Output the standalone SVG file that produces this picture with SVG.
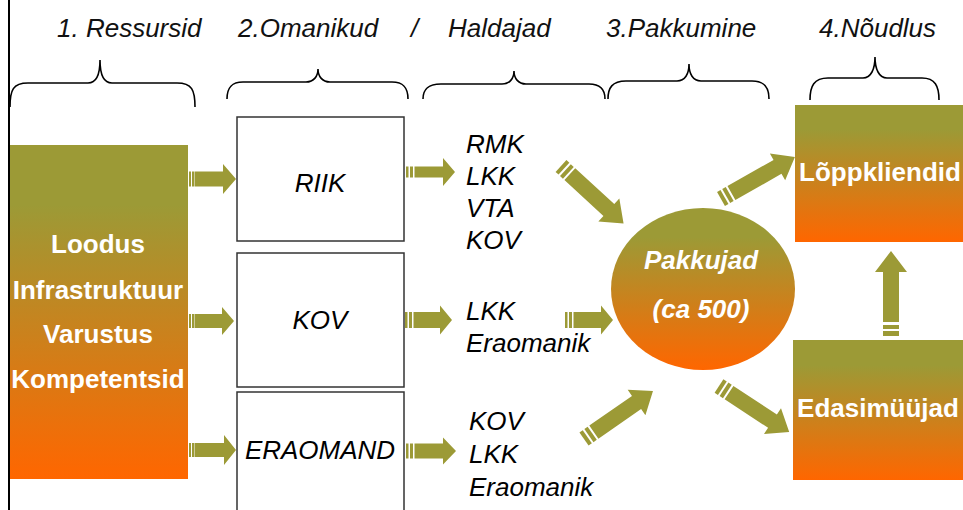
<svg xmlns="http://www.w3.org/2000/svg" width="963" height="510" viewBox="0 0 963 510">
  <defs>
    <linearGradient id="olive-orange" x1="0" y1="0" x2="0" y2="1">
      <stop offset="0" stop-color="#9C9A36"/>
      <stop offset="0.18" stop-color="#9C9A36"/>
      <stop offset="1" stop-color="#FF6600"/>
    </linearGradient>
  </defs>
  <style>
    .head { font-family: "Liberation Sans", Arial, sans-serif; font-style: italic; font-size: 26px; fill: #111; }
    .item { font-family: "Liberation Sans", Arial, sans-serif; font-style: italic; font-size: 26px; fill: #000; }
    .white { font-family: "Liberation Sans", Arial, sans-serif; font-weight: bold; font-size: 26px; fill: #fff; text-anchor: middle; }
    .brace { fill: none; stroke: #000; stroke-width: 1.6; }
    .owner { fill: #fff; stroke: #333; stroke-width: 1.5; }
    .grad { fill: url(#olive-orange); }
    .arrow { fill: #9C9A36; }
  </style>

  <!-- left margin rule -->
  <line x1="9" y1="0" x2="9" y2="510" stroke="#000" stroke-width="2"/>

  <!-- column headings -->
  <g id="headings">
    <text class="head" x="57" y="37">1. Ressursid</text>
    <text class="head" x="238" y="37">2.Omanikud</text>
    <text class="head" x="411" y="37">/</text>
    <text class="head" x="448" y="37">Haldajad</text>
    <text class="head" x="606" y="37">3.Pakkumine</text>
    <text class="head" x="819" y="37">4.Nõudlus</text>
  </g>

  <!-- curly braces under the headings -->
  <g id="braces">
    <path class="brace" d="M10,107 C10,90 13,83 28,83 L88,83 C96,83 100,74 100,60 C100,74 104,83 112,83 L177,83 C192,83 195,90 195,107"/>
    <path class="brace" d="M227,99 C227,88 231,82 243,82 L306,82 C314,82 318,76 318,69 C318,76 322,82 330,82 L392,82 C404,82 408,88 408,99"/>
    <path class="brace" d="M423,99 C423,90 427,84 441,84 L502,84 C510,84 514,78 514,71 C514,78 518,84 526,84 L589,84 C601,84 605,90 605,99"/>
    <path class="brace" d="M608,99 C608,88 612,81 626,81 L677,81 C685,81 689,74 689,64 C689,74 693,81 701,81 L752,81 C765,81 769,88 769,99"/>
    <path class="brace" d="M810,100 C810,86 814,78 828,78 L863,78 C871,78 875,69 875,57 C875,69 879,78 887,78 L922,78 C935,78 939,86 939,100"/>
  </g>

  <!-- 1. resources -->
  <g id="ressursid">
    <rect class="grad" x="10" y="145" width="178" height="334"/>
    <text class="white" x="98" y="253">Loodus</text>
    <text class="white" x="98" y="299">Infrastruktuur</text>
    <text class="white" x="98" y="343">Varustus</text>
    <text class="white" x="98" y="388">Kompetentsid</text>
  </g>

  <!-- 2. owners -->
  <g id="riik">
    <rect class="owner" x="237" y="117" width="167" height="124"/>
    <text class="item" x="320" y="192" text-anchor="middle">RIIK</text>
  </g>
  <g id="kov">
    <rect class="owner" x="237" y="253" width="167" height="134"/>
    <text class="item" x="320" y="329" text-anchor="middle">KOV</text>
  </g>
  <g id="eraomand">
    <rect class="owner" x="237" y="392" width="167" height="130"/>
    <text class="item" x="320" y="459" text-anchor="middle">ERAOMAND</text>
  </g>

  <!-- managers -->
  <g id="haldajad-riik">
    <text class="item" x="466" y="153">RMK</text>
    <text class="item" x="466" y="185">LKK</text>
    <text class="item" x="466" y="217">VTA</text>
    <text class="item" x="466" y="249">KOV</text>
  </g>
  <g id="haldajad-kov">
    <text class="item" x="466" y="320">LKK</text>
    <text class="item" x="466" y="352">Eraomanik</text>
  </g>
  <g id="haldajad-era">
    <text class="item" x="469" y="430">KOV</text>
    <text class="item" x="469" y="463">LKK</text>
    <text class="item" x="469" y="496">Eraomanik</text>
  </g>

  <!-- 3. supply -->
  <g id="pakkujad">
    <ellipse class="grad" cx="703" cy="289" rx="92" ry="81"/>
    <text class="white" x="701" y="269" font-style="italic">Pakkujad</text>
    <text class="white" x="701" y="318" font-style="italic">(ca 500)</text>
  </g>

  <!-- 4. demand -->
  <g id="loppkliendid">
    <rect class="grad" x="795" y="105" width="170" height="137"/>
    <text class="white" x="880" y="181">Lõppkliendid</text>
  </g>
  <g id="edasimuujad">
    <rect class="grad" x="793" y="340" width="172" height="140"/>
    <text class="white" x="878" y="417">Edasimüüjad</text>
  </g>

  <!-- striped block arrows -->
  <g id="connectors" class="arrow">
    <!-- resources to owners -->
    <g transform="translate(189,179)">
      <rect x="0" y="-7.5" width="2" height="15"/><rect x="3" y="-7.5" width="2.5" height="15"/>
      <polygon points="6,-7.5 34,-7.5 34,-15 47,0 34,15 34,7.5 6,7.5"/>
    </g>
    <g transform="translate(189,321)">
      <rect x="0" y="-7" width="2" height="14"/><rect x="3" y="-7" width="2.5" height="14"/>
      <polygon points="6,-7 33,-7 33,-14 45,0 33,14 33,7 6,7"/>
    </g>
    <g transform="translate(189,450)">
      <rect x="0" y="-7" width="2" height="14"/><rect x="3" y="-7" width="2.5" height="14"/>
      <polygon points="6,-7 35,-7 35,-15 47,0 35,15 35,7 6,7"/>
    </g>
    <!-- owners to managers -->
    <g transform="translate(406,172)">
      <rect x="0" y="-5.5" width="2.5" height="11"/><rect x="4" y="-5.5" width="3" height="11"/>
      <polygon points="8.5,-5.5 37,-5.5 37,-14 49,0 37,14 37,5.5 8.5,5.5"/>
    </g>
    <g transform="translate(405,320)">
      <rect x="0" y="-8" width="2.5" height="16"/><rect x="4" y="-8" width="3" height="16"/>
      <polygon points="8.5,-8 35,-8 35,-14.5 47,0 35,14.5 35,8 8.5,8"/>
    </g>
    <g transform="translate(406,451)">
      <rect x="0" y="-7.5" width="2.5" height="15"/><rect x="4" y="-7.5" width="3" height="15"/>
      <polygon points="8.5,-7.5 37,-7.5 37,-13.5 50,0 37,13.5 37,7.5 8.5,7.5"/>
    </g>
    <!-- managers to suppliers -->
    <g transform="translate(561,166) rotate(42.6)">
      <rect x="0" y="-8" width="4" height="16"/><rect x="6" y="-8" width="4" height="16"/>
      <polygon points="12,-8 65,-8 65,-15.5 85,0 65,15.5 65,8 12,8"/>
    </g>
    <g transform="translate(565,320)">
      <rect x="0" y="-8" width="2.5" height="16"/><rect x="4" y="-8" width="3" height="16"/>
      <polygon points="8.5,-8 36,-8 36,-14.5 48,0 36,14.5 36,8 8.5,8"/>
    </g>
    <g transform="translate(584,439) rotate(-34.8)">
      <rect x="0" y="-8" width="4" height="16"/><rect x="6" y="-8" width="4" height="16"/>
      <polygon points="12,-8 64,-8 64,-15.5 84,0 64,15.5 64,8 12,8"/>
    </g>
    <!-- suppliers to demand -->
    <g transform="translate(721,199) rotate(-29.6)">
      <rect x="0" y="-8" width="4" height="16"/><rect x="6" y="-8" width="4" height="16"/>
      <polygon points="12,-8 65,-8 65,-15.5 85,0 65,15.5 65,8 12,8"/>
    </g>
    <g transform="translate(719,386) rotate(33.3)">
      <rect x="0" y="-8" width="4" height="16"/><rect x="6" y="-8" width="4" height="16"/>
      <polygon points="12,-8 64,-8 64,-15.5 84,0 64,15.5 64,8 12,8"/>
    </g>
    <!-- resellers to end customers -->
    <g transform="translate(891,336) rotate(-90)">
      <rect x="0" y="-8" width="5" height="16"/><rect x="7" y="-8" width="4" height="16"/>
      <polygon points="14,-8 64,-8 64,-16 85,0 64,16 64,8 14,8"/>
    </g>
  </g>
</svg>
